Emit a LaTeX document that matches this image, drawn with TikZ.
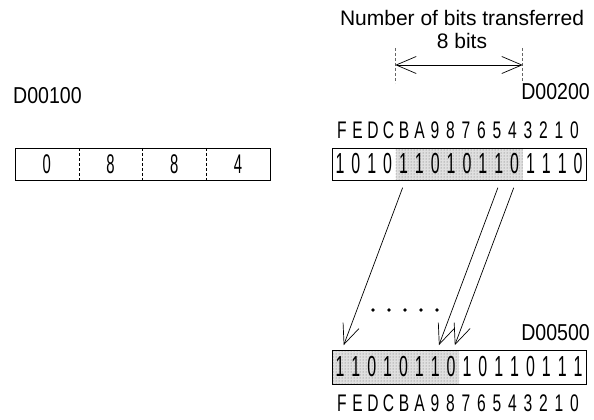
\documentclass[tikz,border=0pt]{standalone}
\usepackage{fontspec}
\setmainfont{Liberation Sans}
\newfontfamily\bitfont[FakeStretch=0.55]{Liberation Sans}
\newfontfamily\idxfont[FakeStretch=0.65]{Liberation Sans}
\newfontfamily\regfont[FakeStretch=0.85]{Liberation Sans}
\usetikzlibrary{arrows.meta,patterns,positioning}
\colorlet{shadegray}{black!60}

\begin{document}
\begin{tikzpicture}[x=1pt, y=-1pt,
  bit/.style={inner sep=0pt, minimum width=15.875pt, minimum height=32pt,
              font=\bitfont\fontsize{29}{30}\selectfont},
  idx/.style={inner sep=0pt, font=\idxfont\fontsize{24}{26}\selectfont},
  word/.style={inner sep=0pt, minimum width=63.75pt, minimum height=32pt,
               font=\bitfont\fontsize{27}{28}\selectfont},
  reg/.style={inner sep=0pt, font=\regfont\fontsize{23}{25}\selectfont},
  caption/.style={inner sep=0pt, font=\fontsize{21}{23}\selectfont},
  barb/.tip={Straight Barb[length=20pt, width=17pt]},
  move/.style={-barb, line width=0.7pt, shorten <=8pt, shorten >=5pt},
  tick/.style={line width=0.5pt, black!60, densely dashed}
]
  \useasboundingbox (0,0) rectangle (594,420);

  % title
  \node[caption] (title) at (462, 18) {Number of bits transferred};
  \node[caption] (nbits) at (462, 41) {8 bits};

  % first operand: D00100
  \node[reg, anchor=west] (r100) at (13, 96) {D00100};
  \foreach \v [count=\i from 0] in {0,8,8,4}{
    \node[word] (w\i) at ({15+63.75*(\i+0.5)}, 164) {\v};
  }
  \draw[line width=0.6pt] (w0.north west) rectangle (w3.south east);
  \foreach \i in {0,1,2}{
    \draw[line width=0.5pt, densely dashed] (w\i.north east) -- (w\i.south east);
  }

  % source word: D00200
  \node[reg, anchor=east] (r200) at (590, 92) {D00200};
  \foreach \c [count=\i from 0] in {F,E,D,C,B,A,9,8,7,6,5,4,3,2,1,0}{
    \node[idx] (si\i) at ({342+15.5*\i}, 130) {\c};
  }
  \fill[black!12] (395.5,148) rectangle (522.5,180);
  \fill[pattern=dots, pattern color=shadegray] (395.5,148) rectangle (522.5,180);
  \foreach \b [count=\i from 0] in {1,0,1,0,1,1,0,1,0,1,1,0,1,1,1,0}{
    \node[bit] (s\i) at ({332+15.875*(\i+0.5)}, 164) {\b};
  }
  \draw[line width=0.6pt] (s0.north west) rectangle (s15.south east);

  % span of transferred bits
  \coordinate (spanL) at (s4.north west |- 0,48);
  \coordinate (spanR) at (s11.north east |- 0,48);
  \draw[tick] (spanL) -- ++(0,35);
  \draw[tick] (spanR) -- ++(0,35);
  \draw[barb-barb, line width=0.7pt] ([yshift=-17pt]spanL) -- ([yshift=-17pt]spanR);

  % destination word: D00500
  \node[reg, anchor=east] (r500) at (590, 333) {D00500};
  \fill[black!12] (332,350) rectangle (459,384);
  \fill[pattern=dots, pattern color=shadegray] (332,350) rectangle (459,384);
  \foreach \b [count=\i from 0] in {1,1,0,1,0,1,1,0,1,0,1,1,0,1,1,1}{
    \node[bit, minimum height=34pt] (d\i) at ({332+15.875*(\i+0.5)}, 367) {\b};
  }
  \draw[line width=0.6pt] (d0.north west) rectangle (d15.south east);
  \foreach \c [count=\i from 0] in {F,E,D,C,B,A,9,8,7,6,5,4,3,2,1,0}{
    \node[idx] (di\i) at ({342+15.5*\i}, 403) {\c};
  }

  % bit moves
  \foreach \f/\t in {4/0, 10/6, 11/7}{
    \draw[move] ([xshift=2pt]s\f.south) -- ([xshift=2pt]d\t.north);
  }
  \foreach \k in {0,...,4}{
    \fill (373+16*\k, 310) circle (1.8);
  }
\end{tikzpicture}
\end{document}
